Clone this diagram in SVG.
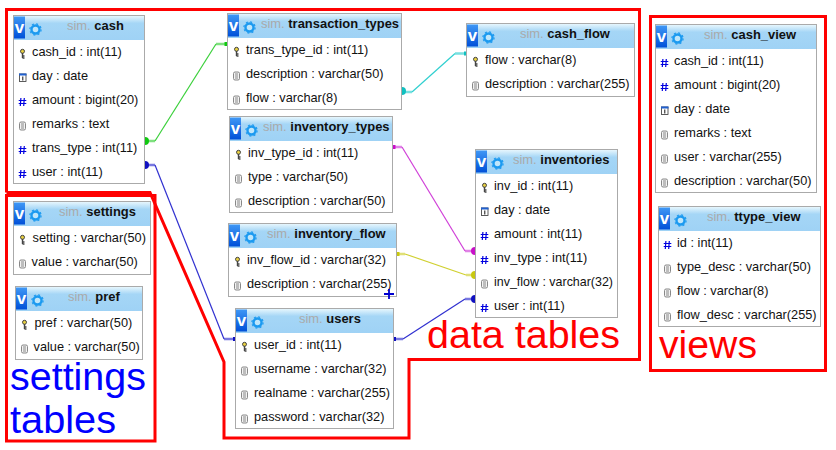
<svg xmlns="http://www.w3.org/2000/svg" width="836" height="450" viewBox="0 0 836 450">
<style>
text{font-family:"Liberation Sans",Arial,sans-serif}
.box{fill:#fff;stroke:#aaa;stroke-width:1}
.hd{fill:url(#hg)}
.r{font-size:12.75px;fill:#111}
.t{font-size:12.95px;font-weight:bold;fill:#111}
.s{font-weight:normal;fill:#aaa}
.v{font-size:17px;font-weight:bold;fill:#fff}
.vb{fill:url(#vg)}
.big{font-size:38px}
.red{fill:none;stroke:#f00;stroke-width:3}
.c{fill:none;stroke-width:1.2}
.st{fill:none;stroke-width:2.4;opacity:.65}
</style>
<defs>
<linearGradient id="hg" x1="0" y1="0" x2="0" y2="1"><stop offset="0" stop-color="#e6f6fd"/><stop offset=".3" stop-color="#a5d6f6"/><stop offset="1" stop-color="#9fd2f5"/></linearGradient>
<linearGradient id="vg" x1="0" y1="0" x2="0" y2="1"><stop offset="0" stop-color="#3f97f5"/><stop offset="1" stop-color="#0050d8"/></linearGradient>
<g id="head">
<rect class="vb" x="0.5" y="1" width="11" height="22"/>
<text class="v" x="6" y="17" text-anchor="middle">v</text>
<circle cx="22" cy="14" r="4" fill="#bfe6fb" stroke="#1c9af0" stroke-width="2.4"/>
<circle cx="22" cy="14" r="5.6" fill="none" stroke="#1c9af0" stroke-width="1.2" stroke-dasharray="2 2.4"/>
</g>
<g id="key"><circle cx="0" cy="-2.2" r="2" fill="#e8d040" stroke="#444" stroke-width="1"/><path d="M0-.5V4.5M0 2.5H2M0 4.5H2" stroke="#444" stroke-width="1.4" fill="none"/></g>
<g id="doc"><rect x="-3" y="-3.500" width="6" height="8" rx="1.500" fill="#f3f3f3" stroke="#888"/><path d="M-1.500-1.500H1.500M-1.500 .5H1.500M-1.500 2.500H1.500" stroke="#888"/></g>
<g id="hash"><path d="M-1.600-3.500L-2.200 4.500M1.800-3.500L1.200 4.500M-3.800-1H3.800M-3.800 2H3.800" stroke="#0000e0" stroke-width="1.200" fill="none"/></g>
<g id="cal"><rect x="-3" y="-3.500" width="6.500" height="7.500" fill="#fff" stroke="#333" stroke-width=".8"/><rect x="-3.500" y="-4" width="7.500" height="2" fill="#2060d0"/><path d="M.3-1V3" stroke="#111"/></g>
</defs>

<g id="connectors">
<path class="c" stroke="#3ad03a" d="M155 141L216 44"/><path class="st" stroke="#3ad03a" d="M146 141H155M216 44H226"/><circle cx="145" cy="141" r="4" fill="#10c810"/><rect x="224.500" y="42" width="3" height="4" fill="#10c810"/>
<path class="c" stroke="#3030d0" d="M155 165L224 339"/><path class="st" stroke="#3030d0" d="M146 165H155M224 339H234"/><circle cx="145" cy="165" r="4" fill="#1010c0"/><rect x="233" y="337" width="3" height="4" fill="#1010c0"/>
<path class="c" stroke="#30d0d0" d="M412 92L455 53.500"/><path class="st" stroke="#30d0d0" d="M402 92H412M455 53.500H465"/><circle cx="402" cy="91" r="4" fill="#10c0c0"/><rect x="464" y="51.500" width="3" height="4" fill="#10c0c0"/>
<path class="c" stroke="#d040d8" d="M402 147L465 251"/><path class="st" stroke="#d040d8" d="M394 147H402M465 251H474"/><circle cx="475" cy="251" r="4" fill="#c810c8"/><rect x="392.500" y="145" width="3" height="4" fill="#c810c8"/>
<path class="c" stroke="#d0d030" d="M405 254L466 275"/><path class="st" stroke="#d0d030" d="M397 254H405M466 275H474"/><circle cx="475" cy="275" r="4" fill="#c8c810"/><rect x="396.500" y="252" width="3" height="4" fill="#c8c810"/>
<path class="c" stroke="#3030d0" d="M403 339L465 299"/><path class="st" stroke="#3030d0" d="M394 339H403M465 299H474"/><circle cx="475" cy="299" r="4" fill="#1010c0"/><rect x="393" y="337" width="3" height="4" fill="#1010c0"/>
</g>

<g id="cash" transform="translate(13.5,15.5)">
<rect class="box" width="131" height="168"/><rect class="hd" x=".5" y=".5" width="130" height="24"/><use href="#head"/>
<text class="t" x="53.500" y="14.500"><tspan class="s">sim. </tspan>cash</text>
<use href="#key" x="9" y="38"/><text class="r" x="18.500" y="40.500">cash_id : int(11)</text>
<use href="#cal" x="9" y="62"/><text class="r" x="18.500" y="64.500">day : date</text>
<use href="#hash" x="9" y="86"/><text class="r" x="18.500" y="88.500">amount : bigint(20)</text>
<use href="#doc" x="9" y="110"/><text class="r" x="18.500" y="112.500">remarks : text</text>
<use href="#hash" x="9" y="134"/><text class="r" x="18.500" y="136.500">trans_type : int(11)</text>
<use href="#hash" x="9" y="158"/><text class="r" x="18.500" y="160.500">user : int(11)</text>
</g>

<g id="settings" transform="translate(13.5,201.5)">
<rect class="box" width="137" height="73"/><rect class="hd" x=".5" y=".5" width="136" height="24"/><use href="#head"/>
<text class="t" x="45.500" y="14.500"><tspan class="s">sim. </tspan>settings</text>
<use href="#key" x="9" y="38"/><text class="r" x="19" y="40.500">setting : varchar(50)</text>
<use href="#doc" x="9" y="62"/><text class="r" x="18" y="64.500">value : varchar(50)</text>
</g>

<g id="pref" transform="translate(15.5,286.5)">
<rect class="box" width="127" height="73"/><rect class="hd" x=".5" y=".5" width="126" height="24"/><use href="#head"/>
<text class="t" x="52.500" y="14.500"><tspan class="s">sim. </tspan>pref</text>
<use href="#key" x="9" y="38"/><text class="r" x="19" y="40.500">pref : varchar(50)</text>
<use href="#doc" x="9" y="62"/><text class="r" x="18" y="64.500">value : varchar(50)</text>
</g>

<g id="transaction_types" transform="translate(227.5,13.5)">
<rect class="box" width="174" height="96"/><rect class="hd" x=".5" y=".5" width="173" height="24"/><use href="#head"/>
<text class="t" x="33.500" y="14.500"><tspan class="s">sim. </tspan>transaction_types</text>
<use href="#key" x="9" y="38"/><text class="r" x="18.500" y="40.500">trans_type_id : int(11)</text>
<use href="#doc" x="9" y="62"/><text class="r" x="18.500" y="64.500">description : varchar(50)</text>
<use href="#doc" x="9" y="86"/><text class="r" x="18.500" y="88.500">flow : varchar(8)</text>
</g>

<g id="inventory_types" transform="translate(229.5,116.5)">
<rect class="box" width="163" height="96"/><rect class="hd" x=".5" y=".5" width="162" height="24"/><use href="#head"/>
<text class="t" x="33.500" y="14.500"><tspan class="s">sim. </tspan>inventory_types</text>
<use href="#key" x="9" y="38"/><text class="r" x="18.500" y="40.500">inv_type_id : int(11)</text>
<use href="#doc" x="9" y="62"/><text class="r" x="18.500" y="64.500">type : varchar(50)</text>
<use href="#doc" x="9" y="86"/><text class="r" x="18.500" y="88.500">description : varchar(50)</text>
</g>

<g id="inventory_flow" transform="translate(228.5,223.5)">
<rect class="box" width="168" height="73"/><rect class="hd" x=".5" y=".5" width="167" height="24"/><use href="#head"/>
<text class="t" x="38.500" y="14.500"><tspan class="s">sim. </tspan>inventory_flow</text>
<use href="#key" x="9" y="38"/><text class="r" x="18.500" y="40.500">inv_flow_id : varchar(32)</text>
<use href="#doc" x="9" y="62"/><text class="r" x="18.500" y="64.500">description : varchar(255)</text>
<path d="M155.500 70.500H165.500M160.500 65.500V75.500" stroke="#0000d0" stroke-width="1.800" fill="none"/>
</g>

<g id="users" transform="translate(235.5,308.5)">
<rect class="box" width="158" height="120"/><rect class="hd" x=".5" y=".5" width="157" height="24"/><use href="#head"/>
<text class="t" x="63.500" y="14.500"><tspan class="s">sim. </tspan>users</text>
<use href="#key" x="9" y="38"/><text class="r" x="18.500" y="40.500">user_id : int(11)</text>
<use href="#doc" x="9" y="62"/><text class="r" x="18.500" y="64.500">username : varchar(32)</text>
<use href="#doc" x="9" y="86"/><text class="r" x="18.500" y="88.500">realname : varchar(255)</text>
<use href="#doc" x="9" y="110"/><text class="r" x="18.500" y="112.500">password : varchar(32)</text>
</g>

<g id="cash_flow" transform="translate(466.5,23.5)">
<rect class="box" width="168" height="73"/><rect class="hd" x=".5" y=".5" width="167" height="24"/><use href="#head"/>
<text class="t" x="53.500" y="14.500"><tspan class="s">sim. </tspan>cash_flow</text>
<use href="#key" x="9" y="38"/><text class="r" x="18.500" y="40.500">flow : varchar(8)</text>
<use href="#doc" x="9" y="62"/><text class="r" x="18.500" y="64.500">description : varchar(255)</text>
</g>

<g id="inventories" transform="translate(475.5,149.5)">
<rect class="box" width="142" height="168"/><rect class="hd" x=".5" y=".5" width="141" height="24"/><use href="#head"/>
<text class="t" x="37.500" y="14.500"><tspan class="s">sim. </tspan>inventories</text>
<use href="#key" x="9" y="38"/><text class="r" x="18.500" y="40.500">inv_id : int(11)</text>
<use href="#cal" x="9" y="62"/><text class="r" x="18.500" y="64.500">day : date</text>
<use href="#hash" x="9" y="86"/><text class="r" x="18.500" y="88.500">amount : int(11)</text>
<use href="#hash" x="9" y="110"/><text class="r" x="18.500" y="112.500">inv_type : int(11)</text>
<use href="#doc" x="9" y="134"/><text class="r" x="18.500" y="136.500" textLength="119" lengthAdjust="spacingAndGlyphs">inv_flow : varchar(32)</text>
<use href="#hash" x="9" y="158"/><text class="r" x="18.500" y="160.500">user : int(11)</text>
</g>

<g id="cash_view" transform="translate(655.5,24.5)">
<rect class="box" width="161" height="168"/><rect class="hd" x=".5" y=".5" width="160" height="24"/><use href="#head"/>
<text class="t" x="48.500" y="14.500"><tspan class="s">sim. </tspan>cash_view</text>
<use href="#hash" x="9" y="38"/><text class="r" x="18.500" y="40.500">cash_id : int(11)</text>
<use href="#hash" x="9" y="62"/><text class="r" x="18.500" y="64.500">amount : bigint(20)</text>
<use href="#cal" x="9" y="86"/><text class="r" x="18.500" y="88.500">day : date</text>
<use href="#doc" x="9" y="110"/><text class="r" x="18.500" y="112.500">remarks : text</text>
<use href="#doc" x="9" y="134"/><text class="r" x="18.500" y="136.500">user : varchar(255)</text>
<use href="#doc" x="9" y="158"/><text class="r" x="18.500" y="160.500">description : varchar(50)</text>
</g>

<g id="ttype_view" transform="translate(658.5,206.5)">
<rect class="box" width="162" height="120"/><rect class="hd" x=".5" y=".5" width="161" height="24"/><use href="#head"/>
<text class="t" x="48.500" y="14.500"><tspan class="s">sim. </tspan>ttype_view</text>
<use href="#hash" x="9" y="38"/><text class="r" x="18.500" y="40.500">id : int(11)</text>
<use href="#doc" x="9" y="62"/><text class="r" x="18.500" y="64.500">type_desc : varchar(50)</text>
<use href="#doc" x="9" y="86"/><text class="r" x="18.500" y="88.500">flow : varchar(8)</text>
<use href="#doc" x="9" y="110"/><text class="r" x="18.500" y="112.500">flow_desc : varchar(255)</text>
</g>

<path class="red" d="M6.500 192.500V9.500H639.500V359.500H409V438H224V362L150 192.500H6.500"/>
<path class="red" d="M6.500 195.500H155V441H6.500Z"/>
<rect class="red" x="650.500" y="16.500" width="175" height="354"/>
<text class="big" x="10" y="390" fill="#00f" textLength="136" lengthAdjust="spacingAndGlyphs">settings</text>
<text class="big" x="10" y="433" fill="#00f" textLength="106" lengthAdjust="spacingAndGlyphs">tables</text>
<text class="big" x="427" y="348" fill="#f00" textLength="193" lengthAdjust="spacingAndGlyphs">data tables</text>
<text class="big" x="659" y="358" fill="#f00" textLength="98" lengthAdjust="spacingAndGlyphs">views</text>
</svg>
